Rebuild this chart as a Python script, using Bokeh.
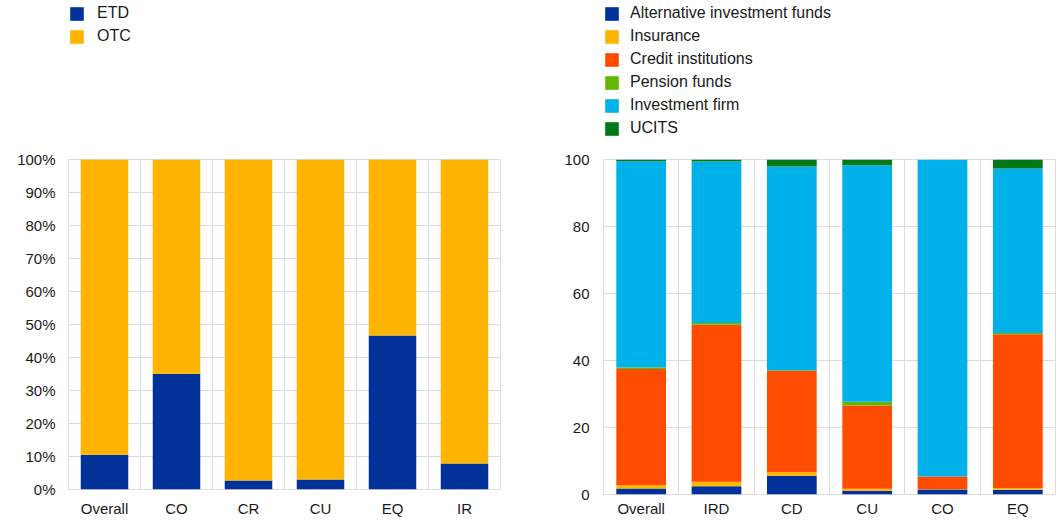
from bokeh.plotting import figure
from bokeh.layouts import row, column
from bokeh.models import (ColumnDataSource, FixedTicker, PrintfTickFormatter,
                          Legend, LegendItem, Range1d)
from bokeh.embed import file_html
from bokeh.resources import INLINE

# ---------------- data ----------------
left_categories = ["Overall", "CO", "CR", "CU", "EQ", "IR"]
etd = [10.5, 35.1, 2.7, 3.0, 46.7, 7.9]
otc = [89.5, 64.9, 97.3, 97.0, 53.3, 92.1]

right_categories = ["Overall", "IRD", "CD", "CU", "CO", "EQ"]
alternative_investment_funds = [1.8, 2.5, 5.6, 1.1, 1.5, 1.4]
insurance = [1.0, 1.3, 1.1, 0.6, 0.1, 0.5]
credit_institutions = [34.7, 46.9, 30.2, 24.9, 3.8, 45.9]
pension_funds = [0.4, 0.5, 0.2, 1.1, 0.0, 0.4]
investment_firm = [61.6, 48.2, 60.8, 70.6, 94.6, 49.1]
ucits = [0.5, 0.6, 2.1, 1.7, 0.0, 2.7]

left_yticks = [0, 10, 20, 30, 40, 50, 60, 70, 80, 90, 100]
right_yticks = [0, 20, 40, 60, 80, 100]

left_series = ["ETD", "OTC"]
right_series = ["Alternative investment funds", "Insurance", "Credit institutions",
                "Pension funds", "Investment firm", "UCITS"]

# ---------------- style ----------------
FONT = "Liberation Sans"
GRID = "#dcdcdc"
TXT = "#1a1a1a"
C_BLUE = "#003299"
C_YEL = "#FFB400"
C_RED = "#FF4B00"
C_GRN = "#65B800"
C_CYAN = "#00B1EA"
C_DGRN = "#007816"
left_colors = [C_BLUE, C_YEL]
right_colors = [C_BLUE, C_YEL, C_RED, C_GRN, C_CYAN, C_DGRN]

LEG_H = 140


def style(p, cats, yticks, standoff_x, standoff_y):
    n = len(cats)
    centers = [i + 0.5 for i in range(n)]
    p.xaxis.ticker = FixedTicker(ticks=centers)
    p.xaxis.major_label_overrides = {c: lab for c, lab in zip(centers, cats)}
    p.yaxis.ticker = FixedTicker(ticks=yticks)
    p.xgrid.ticker = FixedTicker(ticks=list(range(n + 1)))
    for ax in (p.xaxis[0], p.yaxis[0]):
        ax.axis_line_color = None
        ax.major_tick_line_color = None
        ax.minor_tick_line_color = None
        ax.major_tick_out = 0
        ax.major_tick_in = 0
        ax.minor_tick_out = 0
        ax.minor_tick_in = 0
        ax.major_label_text_font = FONT
        ax.major_label_text_font_size = "15px"
        ax.major_label_text_color = TXT
    p.xaxis.major_label_standoff = standoff_x
    p.yaxis.major_label_standoff = standoff_y
    p.xgrid.grid_line_color = GRID
    p.ygrid.grid_line_color = GRID
    p.outline_line_color = GRID
    p.background_fill_color = "white"
    p.border_fill_color = "white"


def legend_figure(width, labels, keys, colors, src, x, y, standoff):
    # separate strip holding the legend; its (hidden) renderers use the same data
    lf = figure(width=width, height=LEG_H, x_range=Range1d(0, 6), y_range=Range1d(0, 100),
                output_backend="svg", toolbar_location=None,
                x_axis_type=None, y_axis_type=None,
                min_border=0, min_border_left=0, min_border_right=0,
                min_border_top=0, min_border_bottom=0)
    lf.outline_line_color = None
    lf.grid.visible = False
    rs = lf.vbar_stack(keys, x="x", width=0.66, source=src, color=colors, line_color=None)
    items = []
    for lab, r in zip(labels, rs):
        r.visible = False
        items.append(LegendItem(label=lab, renderers=[r]))
    lg = Legend(items=items, location=(x, y), orientation="vertical")
    lg.padding = 0
    lg.margin = 0
    lg.border_line_color = None
    lg.background_fill_alpha = 0
    lg.inactive_fill_alpha = 0
    lg.click_policy = "none"
    lg.glyph_width = 17
    lg.glyph_height = 17
    lg.label_height = 17
    lg.spacing = 5
    lg.label_standoff = standoff
    lg.label_text_font = FONT
    lg.label_text_font_size = "16px"
    lg.label_text_color = TXT
    lf.add_layout(lg, "center")
    return lf


# ---------------- left chart ----------------
src1 = ColumnDataSource(dict(
    x=[i + 0.5 for i in range(len(left_categories))],
    ETD=etd, OTC=otc))

p1 = figure(width=540, height=522 - LEG_H, x_range=Range1d(0, 6), y_range=Range1d(0, 100),
            output_backend="svg", toolbar_location=None,
            min_border_left=68, min_border_right=40,
            min_border_top=159 - LEG_H, min_border_bottom=33)
p1.vbar_stack(left_series, x="x", width=0.66, source=src1,
              color=left_colors, line_color=None)
style(p1, left_categories, left_yticks, 10, 13)
p1.yaxis.formatter = PrintfTickFormatter(format="%d%%")
lf1 = legend_figure(540, left_series, left_series, left_colors, src1, 0, 95, 12)

# ---------------- right chart ----------------
keys = ["aif", "ins", "cred", "pen", "inv", "ucits"]
src2 = ColumnDataSource(dict(
    x=[i + 0.5 for i in range(len(right_categories))],
    aif=alternative_investment_funds, ins=insurance, cred=credit_institutions,
    pen=pension_funds, inv=investment_firm, ucits=ucits))

p2 = figure(width=521, height=522 - LEG_H, x_range=Range1d(0, 6), y_range=Range1d(0, 100),
            output_backend="svg", toolbar_location=None,
            min_border_left=63, min_border_right=6,
            min_border_top=159 - LEG_H, min_border_bottom=28)
p2.vbar_stack(keys, x="x", width=0.66, source=src2,
              color=right_colors, line_color=None)
style(p2, right_categories, right_yticks, 5, 14)
lf2 = legend_figure(521, right_series, keys, right_colors, src2, 0, 3, 10)

layout = row(column(lf1, p1), column(lf2, p2))
open("out.html", "w").write(file_html(layout, INLINE))
